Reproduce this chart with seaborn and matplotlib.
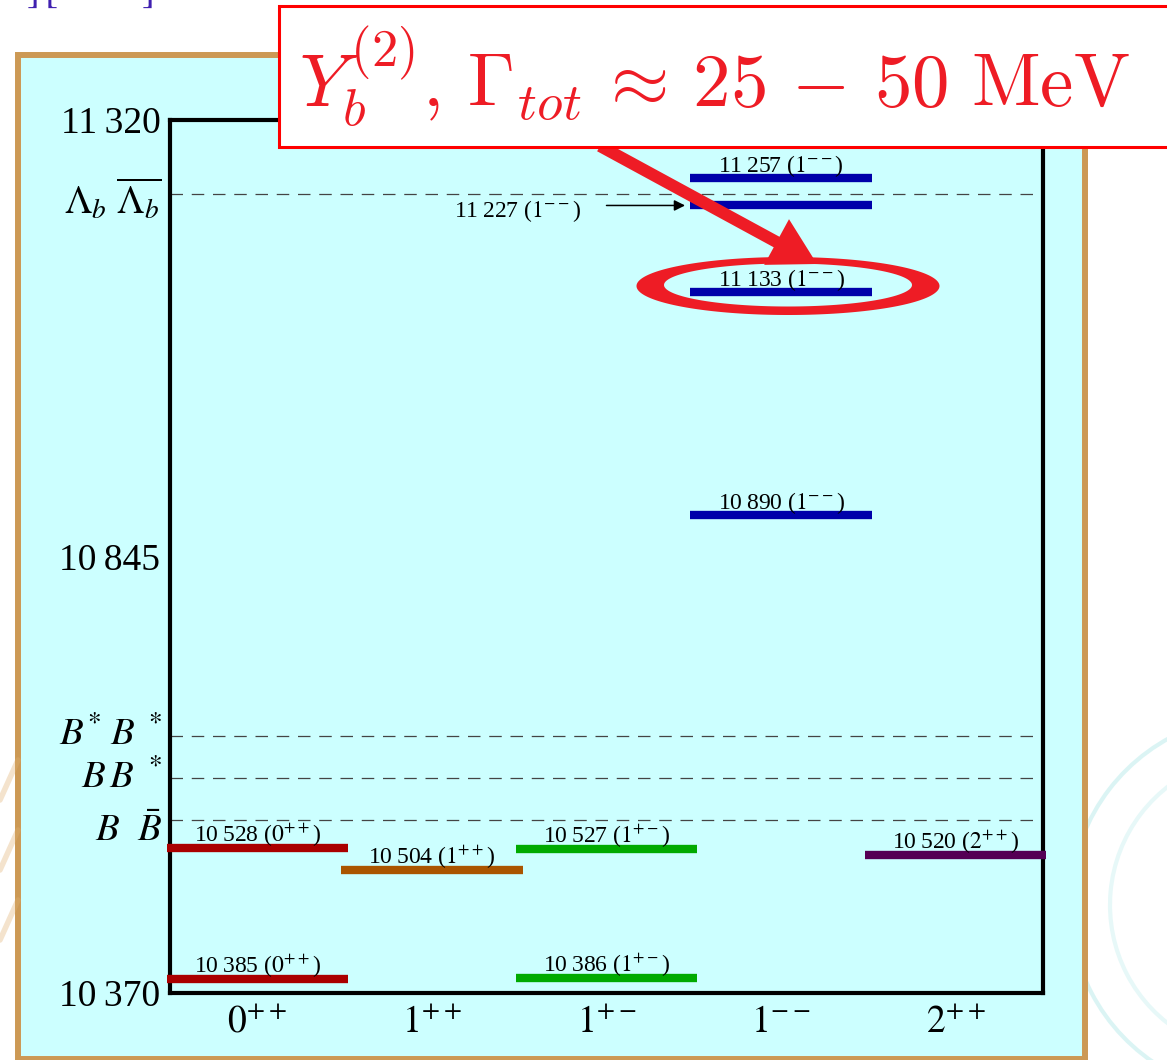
import numpy as np
import pandas as pd
import seaborn as sns
import matplotlib
matplotlib.use("Agg")
import matplotlib.pyplot as plt
from matplotlib.patches import Rectangle, FancyArrow, PathPatch, Arc
from matplotlib.path import Path
import matplotlib.transforms as mtransforms

# ---------------- data ----------------
jpc_labels = [r"$0^{++}$", r"$1^{++}$", r"$1^{+-}$", r"$1^{--}$", r"$2^{++}$"]
level_mass = [10385, 10528, 10504, 10386, 10527, 10890, 11133, 11227, 11257, 10520]
level_col = [0, 0, 1, 2, 2, 3, 3, 3, 3, 4]
level_jpc = ["0^{++}", "0^{++}", "1^{++}", "1^{+-}", "1^{+-}", "1^{--}", "1^{--}", "1^{--}", "1^{--}", "2^{++}"]
col_colors = ["#AA0000", "#AA5500", "#00AA00", "#0000AA", "#550055"]
threshold_mass = [10558, 10604, 10650, 11240]
threshold_labels = [r"$B\ \ \bar{B}$", r"$B\,B^{\ *}$", r"$B^{*}\;B^{\ *}$",
                    r"$\Lambda_b\ \overline{\Lambda_b}$"]
threshold_offsets = [-8, 0, 0, -5]
y_ticks = [10370, 10845, 11320]
arrowed_level = 11227
header = r"$Y_b^{(2)},\,\Gamma_{tot}\,\approx\,25\,-\,50\ \mathrm{MeV}$"


def fmt_mass(v):
    return f"{v // 1000}\u2009{v % 1000:03d}"


df = pd.DataFrame({"mass": level_mass, "col": level_col, "jpc": level_jpc})
df["x"] = df["col"] + 0.5
df["color"] = [col_colors[c] for c in df["col"]]

# ---------------- style ----------------
sns.set_theme(style="white")
plt.rcParams["font.family"] = ["Liberation Serif", "DejaVu Serif"]
plt.rcParams["mathtext.fontset"] = "stix"
plt.rcParams["text.color"] = "black"
plt.rcParams["xtick.color"] = "black"
plt.rcParams["ytick.color"] = "black"
plt.rcParams["xtick.labelcolor"] = "black"
plt.rcParams["ytick.labelcolor"] = "black"

W, H = 1167, 1060
fig = plt.figure(figsize=(W / 100, H / 100), dpi=100)
fig.patch.set_facecolor("white")

# background (pixel coordinates)
bg = fig.add_axes([0, 0, 1, 1], zorder=0)
bg.set_xlim(0, W)
bg.set_ylim(H, 0)
bg.axis("off")
# faint slide decorations
for r, a in [(190, 0.3), (150, 0.2)]:
    bg.add_patch(Arc((1260, 905), 2 * r, 2 * r, theta1=120, theta2=250,
                     color="#88DDDD", lw=3, alpha=a))
for y0 in [760, 830, 900]:
    bg.plot([0, 18], [y0 + 40, y0], color="#E0B070", lw=4, alpha=0.35)
bg.text(0, 2, r"$-]\,[\quad\ \ -]$", color="#4020B0", fontsize=28, va="baseline", ha="left")
# panel
bg.add_patch(Rectangle((18, 54.5), 1066.5, 1004, facecolor="#CCFFFF",
                       edgecolor="#CC9955", lw=4.3))

# main axes
ax = fig.add_axes([170 / W, 67 / H, 873 / W, 873 / H], zorder=1)
ax.set_facecolor("none")
ax.set_xlim(0, 5)
ax.set_ylim(10370, 11320)
for s in ax.spines.values():
    s.set_color("black")
    s.set_linewidth(3)
    s.set_visible(True)

# thresholds
for m in threshold_mass:
    ax.axhline(m, color="#444444", lw=0.9, dashes=(10, 7), zorder=1)
blend = mtransforms.blended_transform_factory(ax.transAxes, ax.transData)
for m, lab, off in zip(threshold_mass, threshold_labels, threshold_offsets):
    ax.annotate(lab, xy=(-0.009, m), xycoords=blend, xytext=(0, off),
                textcoords="offset points", ha="right", va="center", fontsize=28,
                color="black")

# levels
ax.hlines(df["mass"], df["x"] - 0.52, df["x"] + 0.52, colors=df["color"],
          lw=6, capstyle="butt", clip_on=False, zorder=3)
for _, row in df.iterrows():
    lab = f"{fmt_mass(row['mass'])} (${row['jpc']}$)"
    if row["mass"] == arrowed_level:
        ax.annotate(lab, xy=(row["x"] - 1.51, row["mass"]), xytext=(0, -8),
                    textcoords="offset points", ha="center", va="baseline", fontsize=17,
                    color="black")
        ax.annotate("", xy=(row["x"] - 0.55, row["mass"]), xytext=(row["x"] - 1.0, row["mass"]),
                    arrowprops=dict(arrowstyle="-|>", color="black", lw=1.1,
                                    mutation_scale=16, shrinkA=0, shrinkB=0))
    else:
        ax.annotate(lab, xy=(row["x"], row["mass"]), xytext=(0, 4.5),
                    textcoords="offset points", ha="center", va="baseline", fontsize=17,
                    color="black")

ax.set_yticks(y_ticks)
ax.set_yticklabels([fmt_mass(v) for v in y_ticks])
ax.set_xticks(np.arange(len(jpc_labels)) + 0.5)
ax.set_xticklabels(jpc_labels)
ax.tick_params(axis="y", length=0, labelsize=27, pad=7, labelcolor="black")
ax.tick_params(axis="x", length=0, labelsize=27, pad=9, labelcolor="black")

# overlay (pixel coordinates)
ov = fig.add_axes([0, 0, 1, 1], zorder=10)
ov.set_xlim(0, W)
ov.set_ylim(H, 0)
ov.axis("off")
ov.patch.set_alpha(0)
red = "#EE1C25"
ov.add_patch(FancyArrow(600, 146, 217, 118, width=12, head_width=52, head_length=46,
                        length_includes_head=True, color=red, lw=0))
t = np.linspace(0, 2 * np.pi, 200)
outer = np.column_stack([788 + 151.5 * np.cos(t), 286 + 29 * np.sin(t)])
inner = np.column_stack([788 + 124 * np.cos(t), 285 + 21.5 * np.sin(t)])[::-1]
verts = np.vstack([outer, inner])
codes = np.full(len(verts), Path.LINETO)
codes[0] = Path.MOVETO
codes[len(outer)] = Path.MOVETO
ov.add_patch(PathPatch(Path(verts, codes), facecolor=red, edgecolor="none"))
ov.add_patch(Rectangle((279, 6), 900, 141, facecolor="white", edgecolor="#FF0000", lw=2.2))
ov.text(714, 107, header, color=red, fontsize=54, ha="center", va="baseline",
        math_fontfamily="cm")

fig.savefig("out.png", dpi=100)
